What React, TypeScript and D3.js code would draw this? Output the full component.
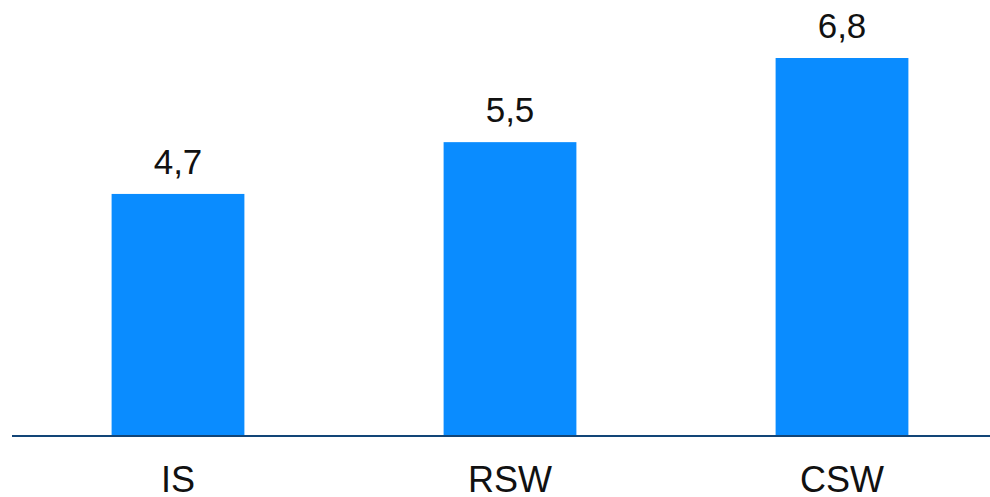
import React, { useEffect, useRef } from 'react';
import * as d3 from 'd3';

const categories = ['IS', 'RSW', 'CSW'];
const values = [4.7, 5.5, 6.8];
const valueLabels = ['4,7', '5,5', '6,8'];

const width = 990;
const height = 497;

export default function App() {
  const svgRef = useRef<SVGSVGElement>(null);

  useEffect(() => {
    if (!svgRef.current) return;
    const svg = d3.select(svgRef.current);
    svg.selectAll('*').remove();

    const baseline = 435;

    const x = d3.scaleBand<string>()
      .domain(categories)
      .range([12, 1008])
      .paddingInner(0.6)
      .paddingOuter(0.3);

    // axis doesn't start at zero in the original
    const y = d3.scaleLinear()
      .domain([0.976, 6.8])
      .range([baseline, 58]);

    const g = svg.append('g');

    g.selectAll('rect.bar')
      .data(values)
      .join('rect')
      .attr('class', 'bar')
      .attr('x', (_, i) => x(categories[i])!)
      .attr('y', d => y(d))
      .attr('width', x.bandwidth())
      .attr('height', d => baseline - y(d))
      .attr('fill', '#0a8cff');

    // value labels
    g.selectAll('text.val')
      .data(values)
      .join('text')
      .attr('class', 'val')
      .attr('x', (_, i) => x(categories[i])! + x.bandwidth() / 2)
      .attr('y', d => y(d) - 20)
      .attr('text-anchor', 'middle')
      .attr('font-family', 'Liberation Sans, Arial, sans-serif')
      .attr('font-size', 35)
      .attr('fill', '#111')
      .text((_, i) => valueLabels[i]);

    // baseline
    g.append('line')
      .attr('x1', 12)
      .attr('x2', width)
      .attr('y1', baseline + 1)
      .attr('y2', baseline + 1)
      .attr('stroke', '#124577')
      .attr('stroke-width', 2);

    // category labels
    g.selectAll('text.cat')
      .data(categories)
      .join('text')
      .attr('class', 'cat')
      .attr('x', d => x(d)! + x.bandwidth() / 2)
      .attr('y', 492)
      .attr('text-anchor', 'middle')
      .attr('font-family', 'Liberation Sans, Arial, sans-serif')
      .attr('font-size', 36)
      .attr('fill', '#111')
      .text(d => d);
  }, []);

  return (
    <svg
      ref={svgRef}
      width={width}
      height={height}
      style={{ position: 'absolute', left: 0, top: 0, display: 'block', background: '#fff' }}
    />
  );
}
